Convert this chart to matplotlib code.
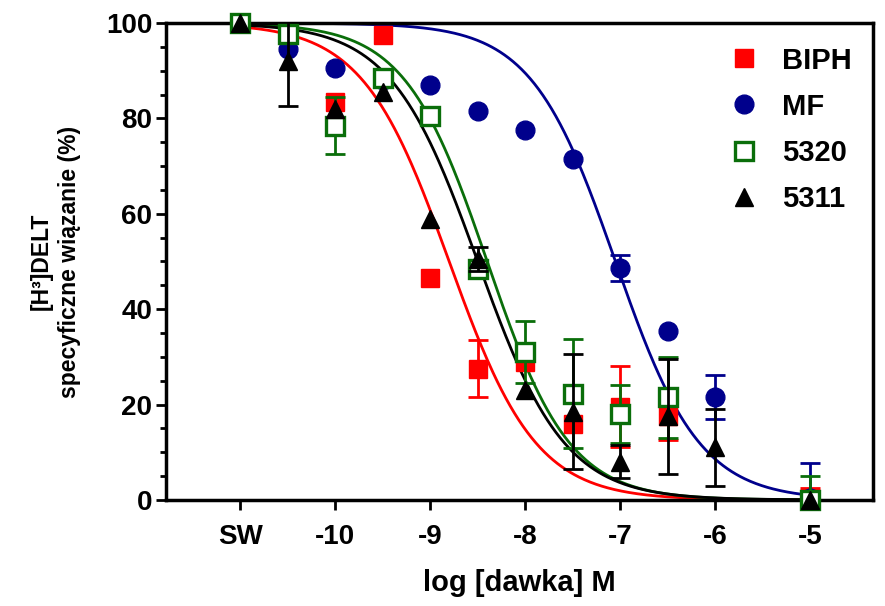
import numpy as np
import matplotlib
matplotlib.use("Agg")
import matplotlib.pyplot as plt
from matplotlib.ticker import MultipleLocator

# Log dose (M); SW (no ligand) plotted at -11
log_dose = [-11, -10.5, -10, -9.5, -9, -8.5, -8, -7.5, -7, -6.5, -6, -5]
tick_pos = [-11, -10, -9, -8, -7, -6, -5]
tick_labels = ["SW", "-10", "-9", "-8", "-7", "-6", "-5"]

nan = np.nan
biph = [100, nan, 83.5, 97.5, 46.5, 27.5, 29, 16, 19.5, 17.5, nan, 0.5]
biph_err = [0, 0, 0, 0, 0, 6, 0, 0, 8.5, 5, 0, 2]
mf = [100, 94.5, 90.5, 88, 87, 81.5, 77.5, 71.5, 48.7, 35.5, 21.6, 0.5]
mf_err = [0, 0, 0, 0, 0, 0, 0, 0, 2.7, 0, 4.7, 7.2]
c5320 = [100, 97.8, 78.5, 88.5, 80.5, 48.5, 31, 22.3, 18, 21.5, nan, 0]
c5320_err = [0, 0, 6, 0, 0, 0, 6.5, 11.5, 6, 8.5, 0, 5]
c5311 = [100, 92, 82, 85.5, 59, 50.5, 23, 18.5, 8, 17.5, 11, 0]
c5311_err = [0, 9.5, 0, 0, 0, 2.5, 0, 12, 3.5, 12, 8, 0]

# Fitted one-site competition curves: (logIC50, Hill slope)
fit_log_ic50 = [-8.8, -7.05, -8.4, -8.5]
fit_hill = [0.95, 0.98, 1.0, 0.95]

names = ["BIPH", "MF", "5320", "5311"]
values = [biph, mf, c5320, c5311]
errors = [biph_err, mf_err, c5320_err, c5311_err]

RED = "#ff0000"
NAVY = "#00008c"
GREEN = "#0a6e0a"
BLACK = "#000000"
styles = [
    dict(marker="s", color=RED, mfc=RED, mec=RED, ms=13, mew=1),
    dict(marker="o", color=NAVY, mfc=NAVY, mec=NAVY, ms=13.5, mew=1),
    dict(marker="s", color=GREEN, mfc="white", mec=GREEN, ms=13, mew=2.4),
    dict(marker="^", color=BLACK, mfc=BLACK, mec=BLACK, ms=13.5, mew=1),
]

plt.rcParams["font.family"] = ["Liberation Sans", "DejaVu Sans"]
plt.rcParams["font.weight"] = "bold"

fig = plt.figure(figsize=(8.85, 6.06), dpi=100)
ax = fig.add_axes([0.1876, 0.175, 0.7988, 0.787])

xs = np.linspace(-11, -5, 400)
handles = []
for i, (name, y, e, st) in enumerate(zip(names, values, errors, styles)):
    x = np.array(log_dose, float)
    y = np.array(y, float)
    e = np.array(e, float)
    curve = 100.0 / (1 + 10 ** ((xs - fit_log_ic50[i]) * fit_hill[i]))
    ax.plot(xs, curve, color=st["color"], lw=2, zorder=2 + i * 0.1)
    m = (e > 0) & ~np.isnan(y)
    ax.errorbar(x[m], y[m], yerr=e[m], fmt="none", ecolor=st["color"],
                elinewidth=2, capsize=7, capthick=2, zorder=3 + i)
    h, = ax.plot(x, y, linestyle="none", marker=st["marker"],
                 markerfacecolor=st["mfc"], markeredgecolor=st["mec"],
                 markersize=st["ms"], markeredgewidth=st["mew"],
                 clip_on=False, zorder=3.5 + i, label=name)
    handles.append(h)

ax.set_xlim(-11.78, -4.34)
ax.set_ylim(0, 100)
ax.set_xticks(tick_pos)
ax.set_xticklabels(tick_labels)
ax.yaxis.set_major_locator(MultipleLocator(20))
ax.yaxis.set_minor_locator(MultipleLocator(5))
ax.tick_params(axis="both", which="major", direction="out", length=7,
               width=2, labelsize=20, pad=3)
ax.tick_params(axis="y", which="minor", direction="out", length=4, width=2)
ax.tick_params(axis="x", which="major", pad=10)
for sp in ax.spines.values():
    sp.set_linewidth(2.5)

ax.set_xlabel("log [dawka] M", fontsize=21, fontweight="bold", labelpad=14)
ax.set_ylabel("[H³]DELT\nspecyficzne wiązanie (%)", fontsize=16.5,
              fontweight="bold", labelpad=18, linespacing=1.3)

leg = ax.legend(handles=handles, loc="upper left",
                bbox_to_anchor=(0.782, 0.975), frameon=False,
                fontsize=21, handlelength=0.9, handletextpad=0.85,
                labelspacing=0.62, borderaxespad=0)
for t in leg.get_texts():
    t.set_fontweight("bold")

fig.savefig("out.png", dpi=100, facecolor="white")
